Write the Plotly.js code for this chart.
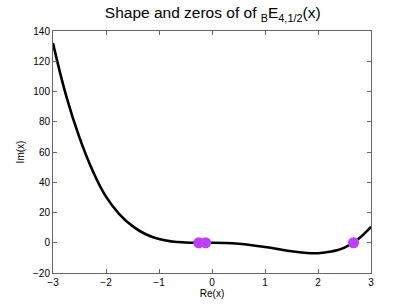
<!DOCTYPE html>
<html><head><meta charset="utf-8">
<script src="https://cdn.plot.ly/plotly-3.0.1.min.js"></script>
<style>html,body{margin:0;padding:0;background:#fff}#c{width:409px;height:307px}</style>
</head><body><div id="c"></div>
<script>
const curveX = [-3, -2.75, -2.5, -2.25, -2, -1.75, -1.5, -1.25, -1, -0.75, -0.5, -0.25, 0, 0.25, 0.5, 0.75, 1, 1.25, 1.5, 1.75, 2, 2.25, 2.5, 2.75, 3];
const curveY = [132, 97, 69.5, 47.5, 30.5, 19, 11, 5.6, 2.4, 0.8, 0.2, 0, 0, -0.2, -0.7, -1.6, -2.8, -4.2, -5.6, -6.6, -6.9, -5.8, -3.2, 2.2, 10.5];
const zerosRe = [-0.25, -0.12, 2.67];
const zerosIm = [0, 0, 0];
const xTicks = [-3, -2, -1, 0, 1, 2, 3];
const yTicks = [-20, 0, 20, 40, 60, 80, 100, 120, 140];

const font = {family: 'Liberation Sans, Arial, sans-serif', color: '#000'};
const traces = [
  {x: curveX, y: curveY, mode: 'lines', line: {color: '#000', width: 2.6, shape: 'spline', smoothing: 1.3}, hoverinfo: 'skip'},
  {x: zerosRe, y: zerosIm, mode: 'markers', marker: {color: '#bf3fff', size: 11}, hoverinfo: 'skip'}
];
const axisCommon = {
  showgrid: false, zeroline: false, showline: true, mirror: 'ticks',
  linecolor: '#666', linewidth: 1, ticks: 'inside', ticklen: 4, tickcolor: '#666',
  tickfont: Object.assign({size: 10}, font)
};
const layout = {
  width: 409, height: 307,
  margin: {l: 53, r: 38, t: 31, b: 34},
  paper_bgcolor: '#fff', plot_bgcolor: '#fff',
  showlegend: false,
  font: font,
  title: {text: 'Shape and zeros of of <sub>B</sub>E<sub>4,1/2</sub>(x)', font: Object.assign({size: 15.5}, font), x: 0.52, xanchor: 'center', y: 0.958, yanchor: 'middle'},
  xaxis: Object.assign({}, axisCommon, {range: [-3, 3], tickvals: xTicks, ticktext: xTicks.map(v => v < 0 ? '\u2212' + Math.abs(v) : String(v)), title: {text: 'Re(x)', font: Object.assign({size: 10}, font), standoff: 2}}),
  yaxis: Object.assign({}, axisCommon, {range: [-20, 140], tickvals: yTicks, ticktext: yTicks.map(v => v < 0 ? '\u2212' + Math.abs(v) : String(v)), title: {text: 'Im(x)', font: Object.assign({size: 10}, font), standoff: 6}})
};
Plotly.newPlot('c', traces, layout, {displayModeBar: false, staticPlot: true});
</script>
</body></html>
